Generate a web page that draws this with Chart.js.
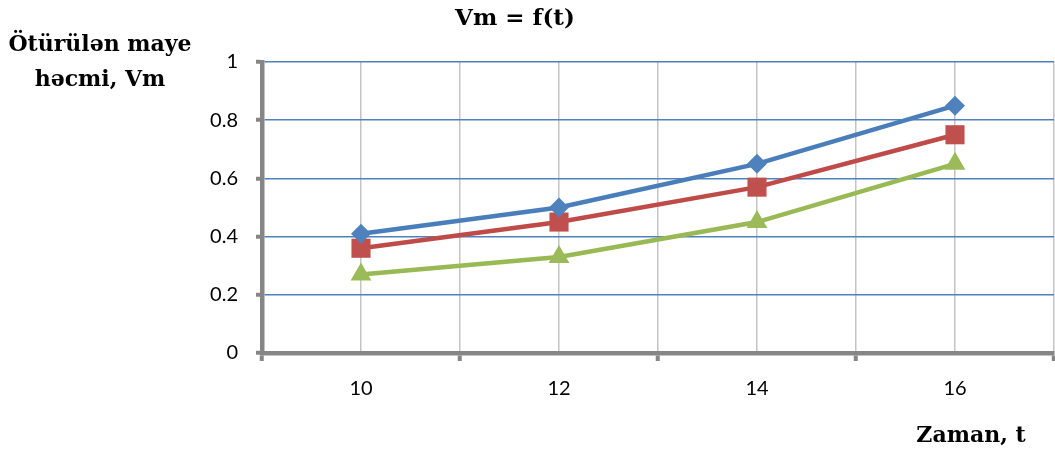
<!DOCTYPE html>
<html>
<head>
<meta charset="utf-8">
<script src="https://cdn.jsdelivr.net/npm/chart.js@4/dist/chart.umd.min.js"></script>
<style>
  html, body { margin: 0; padding: 0; background: #fff; }
  #wrap { width: 1055px; height: 453px; }
</style>
</head>
<body>
<div id="wrap"><canvas id="chart"></canvas></div>
<script>
// time values and the three Vm series
const times = [10, 12, 14, 16];
const vmBlue = [0.41, 0.5, 0.65, 0.85];
const vmRed = [0.36, 0.45, 0.57, 0.75];
const vmGreen = [0.27, 0.33, 0.45, 0.65];
const xLabels = [10, 12, 14, 16];
const yTicks = [0, 0.2, 0.4, 0.6, 0.8, 1];

const chartTitle = "Vm = f(t)";
const yTitle = ["Ötürülən maye", "həcmi, Vm"];
const xTitle = "Zaman, t";

const toPoints = (vals) => times.map((t, i) => ({ x: t, y: vals[i] }));

// titles are horizontal text around the plot, drawn after the chart
const titlesPlugin = {
  id: "titles",
  afterDraw(chart) {
    const ctx = chart.ctx;
    ctx.save();
    ctx.fillStyle = "#000";
    ctx.textAlign = "center";
    ctx.textBaseline = "middle";
    ctx.font = "bold 23px 'DejaVu Serif'";
    ctx.fillText(chartTitle, 515, 19);
    ctx.font = "bold 22px 'DejaVu Serif'";
    ctx.fillText(yTitle[0], 100, 45);
    ctx.fillText(yTitle[1], 100, 80);
    ctx.fillText(xTitle, 971, 436);
    ctx.restore();
  },
};

const ctx = document.getElementById("chart").getContext("2d");
new Chart(ctx, {
  type: "line",
  data: {
    datasets: [
      {
        data: toPoints(vmBlue),
        borderColor: "#4a7ebb",
        backgroundColor: "#4f81bd",
        pointStyle: "rectRot",
        pointRadius: 10,
      },
      {
        data: toPoints(vmRed),
        borderColor: "#be4b48",
        backgroundColor: "#c0504d",
        pointStyle: "rect",
        pointRadius: 13.5,
      },
      {
        data: toPoints(vmGreen),
        borderColor: "#98b954",
        backgroundColor: "#9bbb59",
        pointStyle: "triangle",
        pointRadius: 12,
      },
    ],
  },
  options: {
    responsive: true,
    maintainAspectRatio: false,
    animation: false,
    layout: {
      autoPadding: false,
      padding: { top: 62, right: 1, left: 0, bottom: 0 },
    },
    elements: {
      line: { borderWidth: 4.5, tension: 0, fill: false },
      point: { borderWidth: 0, hoverRadius: 10 },
    },
    plugins: {
      legend: { display: false },
      title: { display: false },
      tooltip: { enabled: false },
    },
    scales: {
      x: {
        type: "linear",
        min: 9,
        max: 17,
        afterBuildTicks(scale) {
          const ticks = [];
          for (let v = 9; v <= 17; v++) ticks.push({ value: v });
          scale.ticks = ticks;
        },
        afterFit(scale) {
          scale.height = 100;
          scale.paddingLeft = 0;
          scale.paddingRight = 0;
        },
        ticks: {
          autoSkip: false,
          maxRotation: 0,
          padding: 16,
          color: "#000",
          font: { family: "Lato", size: 20 },
          callback: (v) => (xLabels.includes(v) ? String(v) : ""),
        },
        grid: {
          color: "#c4c4c4",
          lineWidth: 1.5,
          tickLength: 8,
          tickWidth: 4,
          tickColor: (c) =>
            c.tick && c.tick.value % 2 === 1 ? "#868686" : "rgba(0,0,0,0)",
        },
        border: { color: "#868686", width: 4.5 },
      },
      y: {
        min: 0,
        max: 1,
        afterBuildTicks(scale) {
          scale.ticks = yTicks.map((v) => ({ value: v }));
        },
        afterFit(scale) {
          scale.width = 262;
          scale.paddingTop = 0;
          scale.paddingBottom = 0;
        },
        ticks: {
          padding: 18,
          color: "#000",
          font: { family: "Lato", size: 20 },
          callback: (v) => String(Number(v.toFixed(1))),
        },
        grid: {
          color: "#4f81bd",
          lineWidth: 1.5,
          tickLength: 6,
          tickWidth: 4,
          tickColor: "#868686",
        },
        border: { color: "#868686", width: 4.5 },
      },
    },
  },
  plugins: [titlesPlugin],
});
</script>
</body>
</html>
